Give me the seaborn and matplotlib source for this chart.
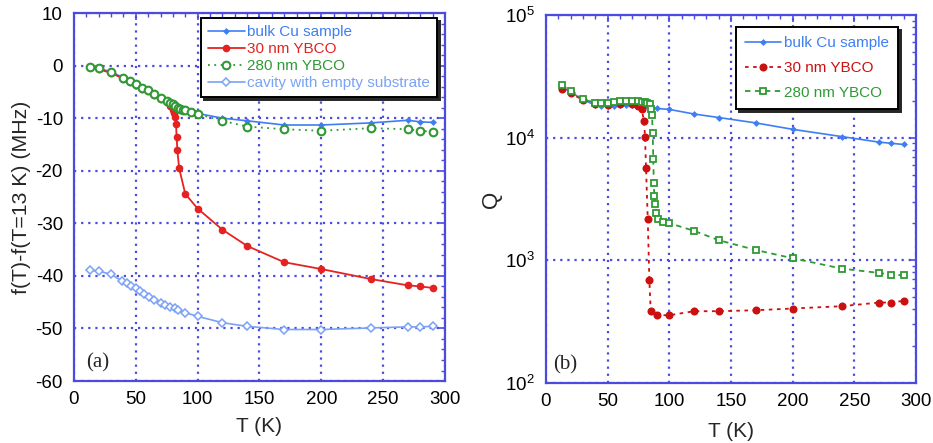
import matplotlib
matplotlib.use("Agg")
import matplotlib.pyplot as plt
from matplotlib.ticker import MultipleLocator, LogLocator, NullFormatter
import seaborn as sns

# ---- (a) frequency shift, MHz ----
T_cu_a = [13, 20, 30, 40, 50, 60, 70, 80, 90, 100, 120, 140, 170, 200, 240, 270, 280, 290]
df_cu_a = [-0.2, -0.5, -1.2, -2.3, -3.4, -4.5, -6.0, -7.2, -8.3, -9.1, -10.0, -10.5,
           -11.3, -11.3, -10.9, -10.4, -10.7, -10.8]

T_30_a = [13, 20, 30, 40, 45, 50, 55, 60, 65, 70, 75, 78, 80, 81, 82, 82.5, 83, 83.6,
          85, 90, 100, 120, 140, 170, 200, 240, 270, 280, 290]
df_30_a = [-0.3, -0.7, -1.4, -2.5, -3.1, -3.7, -4.4, -4.9, -5.6, -6.3, -7.0, -7.6, -8.4,
           -9.0, -9.8, -11.2, -13.5, -16.1, -19.5, -24.4, -27.2, -31.2, -34.3, -37.4,
           -38.7, -40.6, -41.8, -42.0, -42.3]

T_280_a = [13, 20, 30, 40, 45, 50, 55, 60, 65, 70, 75, 78, 80, 82, 84, 86, 88, 90, 95,
           100, 120, 140, 170, 200, 240, 270, 280, 290]
df_280_a = [-0.2, -0.5, -1.2, -2.3, -2.9, -3.5, -4.2, -4.7, -5.4, -6.1, -6.7, -7.1, -7.4,
            -7.7, -8.0, -8.2, -8.4, -8.5, -8.9, -9.2, -10.5, -11.6, -12.1, -12.4, -11.9,
            -12.1, -12.4, -12.6]

T_cav_a = [13, 20, 30, 39, 43, 46, 50, 53, 57, 61, 65, 70, 74, 78, 82, 84, 90, 100, 120,
           140, 170, 200, 240, 270, 280, 290]
df_cav_a = [-38.9, -39.1, -39.7, -41.0, -41.4, -41.9, -42.4, -42.9, -43.5, -44.1, -44.6,
            -45.1, -45.5, -45.9, -46.2, -46.5, -47.0, -47.7, -48.9, -49.6, -50.2, -50.2,
            -49.9, -49.7, -49.7, -49.6]

# ---- (b) quality factor ----
T_cu_b = [13, 20, 30, 40, 45, 50, 55, 60, 65, 70, 75, 80, 85, 90, 100, 120, 140, 170, 200,
          240, 270, 280, 290]
Q_cu_b = [25700, 23700, 20300, 18500, 18200, 18000, 18200, 18400, 18500, 18500, 18400,
          18200, 17800, 17300, 17000, 15600, 14600, 13200, 11700, 10200, 9200, 9000, 8800]

T_30_b = [13, 20, 30, 40, 50, 60, 70, 75, 77.6, 79.5, 80.3, 81.1, 82.5, 83.8, 84.9, 90,
          100, 120, 140, 170, 200, 240, 270, 280, 290]
Q_30_b = [25000, 23000, 20300, 18700, 18500, 18800, 18700, 18000, 17000, 13600, 10100,
          5700, 2170, 690, 390, 357, 357, 385, 385, 392, 405, 423, 453, 453, 468]

T_280_b = [13, 20, 30, 40, 45, 50, 55, 60, 65, 70, 75, 78, 80, 82, 84, 85.2, 86.0, 86.5,
           87.0, 87.4, 87.8, 88.4, 89.2, 90.5, 95, 100, 120, 140, 170, 200, 240, 270,
           280, 290]
Q_280_b = [27100, 23900, 20500, 19300, 19300, 19300, 19500, 19900, 19900, 19900, 19900,
           19700, 19500, 19300, 18800, 17200, 15200, 11000, 6670, 4300, 3350, 2870, 2455,
           2190, 2070, 2010, 1740, 1460, 1215, 1040, 856, 790, 765, 755]

sns.set_theme(style="white")
plt.rcParams["font.family"] = ["Liberation Sans", "DejaVu Sans"]
plt.rcParams["axes.unicode_minus"] = False

AX_BLUE = "#4b4be0"
CU = "#3f7ef2"
CAV = "#7aa2f5"
RED_A = "#e52222"
RED_B = "#cc1010"
GREEN = "#2f9a34"
SERIF = ["Liberation Serif", "DejaVu Serif"]

fig = plt.figure(figsize=(9.33, 4.43), dpi=100)
ax_a = fig.add_axes([0.0793, 0.1399, 0.3976, 0.8307])
ax_b = fig.add_axes([0.5852, 0.1354, 0.3966, 0.8307])


def line(ax, x, y, **kw):
    sns.lineplot(x=x, y=y, ax=ax, estimator=None, sort=False, **kw)


# panel (a)
line(ax_a, T_cu_a, df_cu_a, color=CU, lw=1.2, marker="D", markersize=3.5,
     markeredgewidth=0, label="bulk Cu sample")
line(ax_a, T_30_a, df_30_a, color=RED_A, lw=1.3, marker="o", markersize=5.5,
     markeredgewidth=0, label="30 nm YBCO")
line(ax_a, T_280_a, df_280_a, color=GREEN, lw=1.3, linestyle=(0, (1, 2.5)), marker="o",
     markersize=5.5, markerfacecolor="white", markeredgecolor=GREEN, markeredgewidth=1.5,
     label="280 nm YBCO")
line(ax_a, T_cav_a, df_cav_a, color=CAV, lw=1.2, marker="D", markersize=4,
     markerfacecolor="white", markeredgecolor=CAV, markeredgewidth=1.1,
     label="cavity with empty substrate")

ax_a.set_xlim(0, 300)
ax_a.set_ylim(-60, 10)
ax_a.xaxis.set_major_locator(MultipleLocator(50))
ax_a.xaxis.set_minor_locator(MultipleLocator(10))
ax_a.yaxis.set_major_locator(MultipleLocator(10))
ax_a.yaxis.set_minor_locator(MultipleLocator(2))
ax_a.set_xlabel("T (K)", fontsize=15, labelpad=7)
ax_a.set_ylabel("f(T)-f(T=13 K) (MHz)", fontsize=15.3, labelpad=3)
ax_a.text(0.033, 0.022, "(a)", transform=ax_a.transAxes, fontsize=15,
          family=SERIF, va="bottom", ha="left")

# panel (b)
line(ax_b, T_cu_b, Q_cu_b, color=CU, lw=1.2, marker="D", markersize=3.5,
     markeredgewidth=0, label="bulk Cu sample")
line(ax_b, T_30_b, Q_30_b, color=RED_B, lw=1.3, linestyle=(0, (2, 2.5)), marker="o",
     markersize=5.8, markeredgewidth=0, label="30 nm YBCO")
line(ax_b, T_280_b, Q_280_b, color=GREEN, lw=1.3, linestyle=(0, (3, 2.5)), marker="s",
     markersize=5, markerfacecolor="white", markeredgecolor=GREEN, markeredgewidth=1.3,
     label="280 nm YBCO")

ax_b.set_yscale("log")
ax_b.set_xlim(0, 300)
ax_b.set_ylim(1e2, 1e5)
ax_b.xaxis.set_major_locator(MultipleLocator(50))
ax_b.xaxis.set_minor_locator(MultipleLocator(10))
ax_b.yaxis.set_major_locator(LogLocator(base=10, numticks=10))
ax_b.yaxis.set_minor_locator(LogLocator(base=10, subs=range(2, 10), numticks=20))
ax_b.yaxis.set_minor_formatter(NullFormatter())
ax_b.set_xlabel("T (K)", fontsize=15, labelpad=9)
ax_b.set_ylabel("Q", fontsize=16, labelpad=2)
ax_b.text(0.02, 0.022, "(b)", transform=ax_b.transAxes, fontsize=15,
          family=SERIF, va="bottom", ha="left")

for ax in (ax_a, ax_b):
    for s in ax.spines.values():
        s.set_color(AX_BLUE)
        s.set_linewidth(1.6)
    ax.grid(True, which="major", color=AX_BLUE, linestyle=(0, (1, 2.2)), linewidth=1.6)
    ax.tick_params(which="both", direction="in", top=True, right=True,
                   color=AX_BLUE, labelsize=13.5, labelcolor="black")
    ax.tick_params(axis="x", which="major", pad=7)
    ax.tick_params(axis="y", which="major", pad=8)
    ax.tick_params(which="major", length=5, width=1.2)
    ax.tick_params(which="minor", length=3, width=1.0)
    ax.set_axisbelow(True)

shadow = {"ox": 2.2, "oy": -2.2, "color": "0.15", "alpha": 1.0}
leg_a = ax_a.legend(loc="upper right", bbox_to_anchor=(0.978, 0.986), borderaxespad=0,
                    fontsize=11, handlelength=2.4, labelspacing=0.2, handletextpad=0.15,
                    borderpad=0.45, fancybox=False, shadow=shadow, framealpha=1,
                    edgecolor="black")
leg_b = ax_b.legend(loc="upper right", bbox_to_anchor=(0.951, 0.967), borderaxespad=0,
                    fontsize=11, handlelength=2.4, labelspacing=0.7, handletextpad=0.15,
                    borderpad=0.6, fancybox=False, shadow=shadow, framealpha=1,
                    edgecolor="black")
for leg in (leg_a, leg_b):
    leg.get_frame().set_linewidth(1.4)
    for txt, h in zip(leg.get_texts(), leg.legend_handles):
        txt.set_color(h.get_color())

fig.savefig("out.png", dpi=100)
